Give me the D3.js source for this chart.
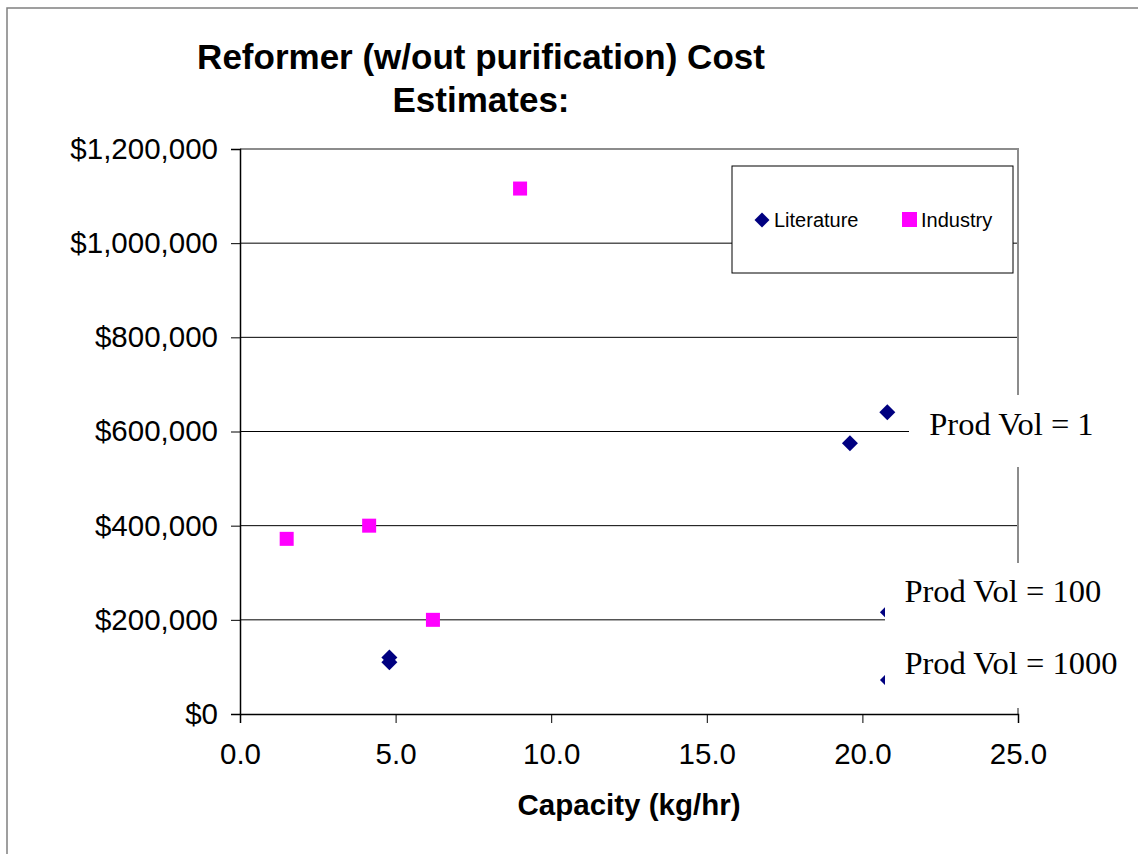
<!DOCTYPE html>
<html>
<head>
<meta charset="utf-8">
<script src="https://cdn.jsdelivr.net/npm/d3@7"></script>
<style>
  body { margin: 0; background: #fff; }
</style>
</head>
<body>
<div class="chart"></div>
<script>
var literature = [
    { x: 4.8, y: 110000 },
    { x: 4.8, y: 120000 },
    { x: 19.6, y: 575000 },
    { x: 20.8, y: 641000 },
    { x: 20.82, y: 216000 },
    { x: 20.82, y: 72000 }
];
var industry = [
    { x: 1.5, y: 372000 },
    { x: 4.15, y: 400000 },
    { x: 6.2, y: 200000 },
    { x: 9.0, y: 1116000 }
];
var xTicks = [0, 5, 10, 15, 20, 25];
var yTicks = [0, 200000, 400000, 600000, 800000, 1000000, 1200000];
var notes = [
    { text: "Prod Vol = 1", x: 22.15, y: 600000 },
    { text: "Prod Vol = 100", x: 21.35, y: 245000 },
    { text: "Prod Vol = 1000", x: 21.35, y: 92000 }
];

var w = 1138, h = 854;
var mLeft = 240, mRight = 1018, mTop = 149, mBottom = 714;
var sans = "Liberation Sans, Arial, sans-serif";
var serif = "Liberation Serif, Times New Roman, serif";

var svg = d3.select(".chart").append("svg")
    .attr("width", w)
    .attr("height", h)
    .style("font-family", sans);

// outer chart border
svg.append("rect")
    .attr("x", 7).attr("y", 8)
    .attr("width", w).attr("height", h)
    .attr("fill", "none")
    .attr("stroke", "#808080")
    .attr("stroke-width", 1.5);

var x = d3.scaleLinear().domain([0, 25]).range([mLeft, mRight]);
var y = d3.scaleLinear().domain([0, 1200000]).range([mBottom, mTop]);

// gridlines
svg.append("g").selectAll("line")
    .data(yTicks.slice(1, -1))
    .enter().append("line")
    .attr("x1", mLeft).attr("x2", mRight)
    .attr("y1", function (d) { return y(d); })
    .attr("y2", function (d) { return y(d); })
    .attr("stroke", "#000")
    .attr("stroke-width", 1);

// plot area top/right border
svg.append("path")
    .attr("d", "M" + mLeft + "," + y(1200000) + "H" + x(25) + "V" + mBottom)
    .attr("fill", "none")
    .attr("stroke", "#8c8c8c")
    .attr("stroke-width", 2);

var yAxis = svg.append("g")
    .attr("transform", "translate(" + mLeft + ",0)")
    .call(d3.axisLeft(y).tickValues(yTicks).tickSize(9).tickPadding(13)
        .tickFormat(function (d) { return "$" + d3.format(",")(d); }));
yAxis.select(".domain").attr("stroke", "#000").attr("stroke-width", 1.5);
yAxis.selectAll("text").style("font-size", "29.5px").style("font-family", sans).attr("fill", "#000");

var xAxis = svg.append("g")
    .attr("transform", "translate(0," + mBottom + ")")
    .call(d3.axisBottom(x).tickValues(xTicks).tickSize(9).tickPadding(20)
        .tickFormat(d3.format(".1f")));
xAxis.select(".domain").attr("stroke", "#000").attr("stroke-width", 1.5);
xAxis.selectAll("text").style("font-size", "29.5px").style("font-family", sans).attr("fill", "#000");

// diamond = square turned 45 degrees
var diamond = d3.symbol().type(d3.symbolSquare).size(128);

svg.append("g").selectAll("path")
    .data(literature)
    .enter().append("path")
    .attr("d", diamond)
    .attr("transform", function (d) { return "translate(" + x(d.x) + "," + y(d.y) + ") rotate(45)"; })
    .attr("fill", "#000080");

svg.append("g").selectAll("rect")
    .data(industry)
    .enter().append("rect")
    .attr("x", function (d) { return x(d.x) - 7; })
    .attr("y", function (d) { return y(d.y) - 7; })
    .attr("width", 14).attr("height", 14)
    .attr("fill", "#ff00ff");

// data labels with white backing, covering part of the chart
var boxes = [
    { x: 909, y: 395, w: 240, h: 72 },
    { x: 885, y: 563, w: 260, h: 145 }
];
svg.append("g").selectAll("rect")
    .data(boxes)
    .enter().append("rect")
    .attr("x", function (d) { return d.x; })
    .attr("y", function (d) { return d.y; })
    .attr("width", function (d) { return d.w; })
    .attr("height", function (d) { return d.h; })
    .attr("fill", "#fff");

svg.append("g").selectAll("text")
    .data(notes)
    .enter().append("text")
    .attr("x", function (d) { return x(d.x); })
    .attr("y", function (d) { return y(d.y) + 3; })
    .style("font-family", serif)
    .style("font-size", "32.5px")
    .attr("fill", "#000")
    .text(function (d) { return d.text; });

// legend
var legend = svg.append("g");
legend.append("rect")
    .attr("x", 732).attr("y", 166)
    .attr("width", 281).attr("height", 107)
    .attr("fill", "#fff")
    .attr("stroke", "#000")
    .attr("stroke-width", 1);
legend.append("path")
    .attr("d", d3.symbol().type(d3.symbolSquare).size(112))
    .attr("transform", "translate(762,220) rotate(45)")
    .attr("fill", "#000080");
legend.append("text")
    .attr("x", 774).attr("y", 227)
    .style("font-size", "20px")
    .text("Literature");
legend.append("rect")
    .attr("x", 902).attr("y", 212)
    .attr("width", 15).attr("height", 15)
    .attr("fill", "#ff00ff");
legend.append("text")
    .attr("x", 921).attr("y", 227)
    .style("font-size", "20px")
    .text("Industry");

// titles
svg.append("text")
    .attr("x", 481).attr("y", 69)
    .attr("text-anchor", "middle")
    .style("font-size", "35px").style("font-weight", "bold")
    .text("Reformer (w/out purification) Cost");
svg.append("text")
    .attr("x", 481).attr("y", 112)
    .attr("text-anchor", "middle")
    .style("font-size", "35px").style("font-weight", "bold")
    .text("Estimates:");

svg.append("text")
    .attr("x", 629).attr("y", 815)
    .attr("text-anchor", "middle")
    .style("font-size", "29.5px").style("font-weight", "bold")
    .text("Capacity (kg/hr)");
</script>
</body>
</html>
